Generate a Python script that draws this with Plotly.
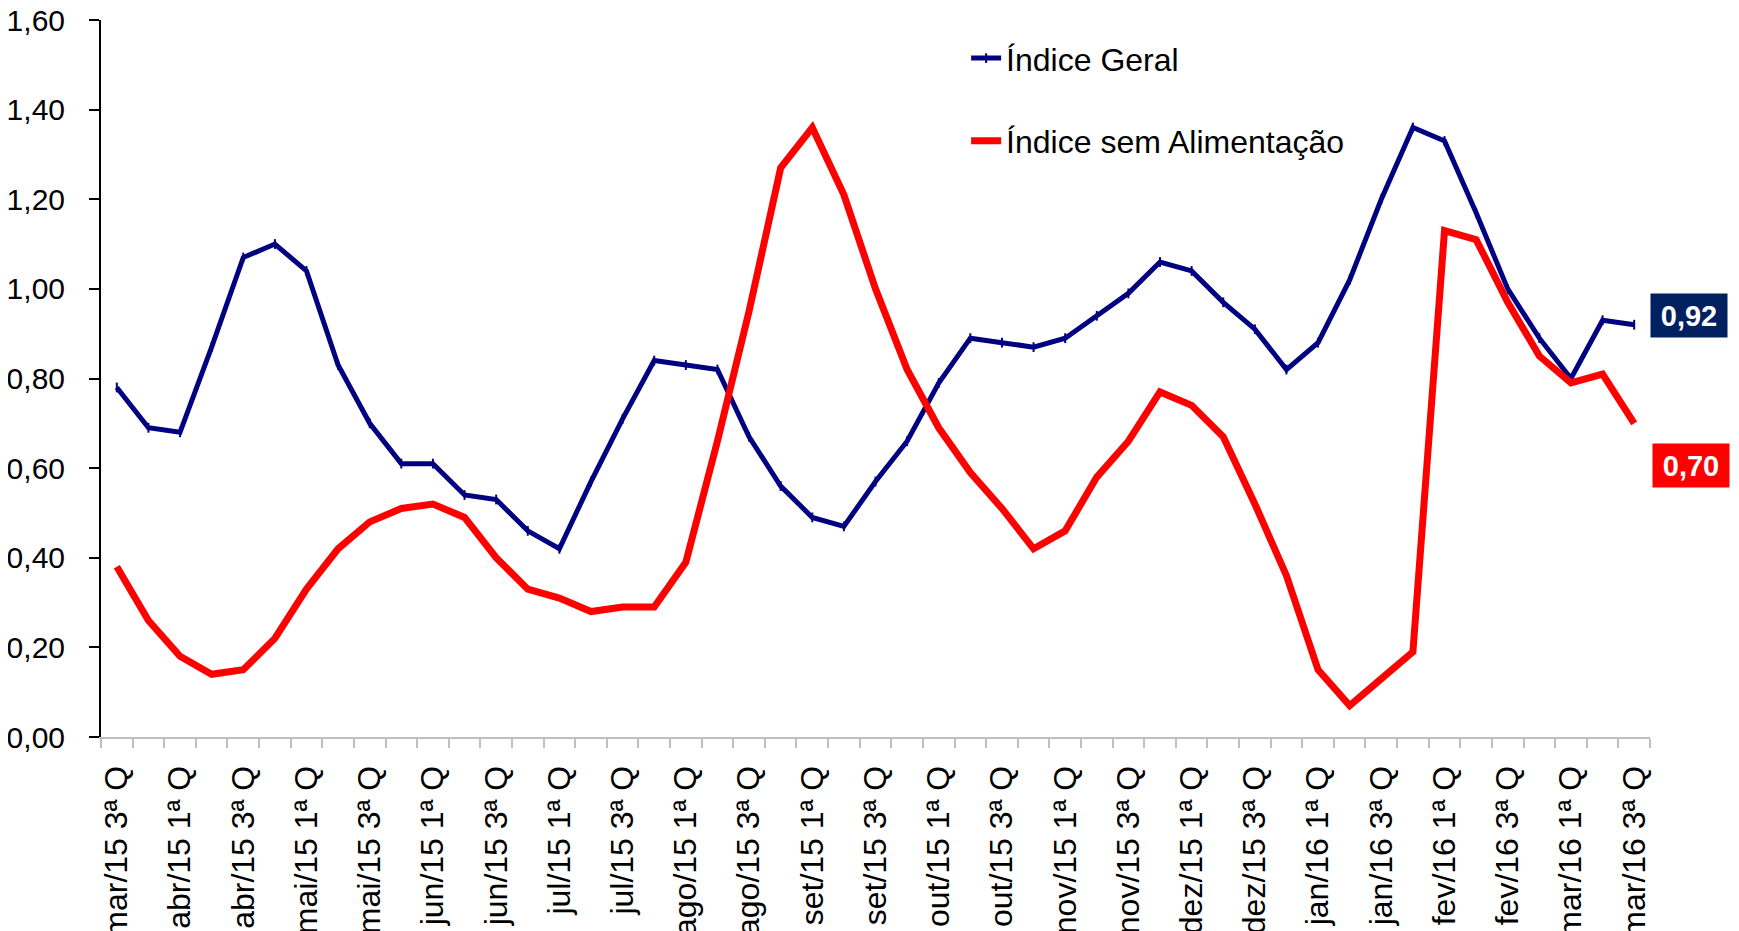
import plotly.graph_objects as go

# ---- data ----
months = ["mar/15", "abr/15", "mai/15", "jun/15", "jul/15", "ago/15", "set/15",
          "out/15", "nov/15", "dez/15", "jan/16", "fev/16", "mar/16"]
first_quad = 3   # series starts at mar/15 3ª Q
last_quad = 3    # series ends at mar/16 3ª Q

categories = []
for mi, m in enumerate(months):
    for q in range(1, 5):
        if mi == 0 and q < first_quad:
            continue
        if mi == len(months) - 1 and q > last_quad:
            continue
        categories.append(f"{m} {q}ª Q")

labeled_quads = ("1ª", "3ª")
tick_text = [c if c.split(" ")[1] in labeled_quads else "" for c in categories]

indice_geral = [0.78, 0.69, 0.68, 0.87, 1.07, 1.10, 1.04, 0.83, 0.70, 0.61,
                0.61, 0.54, 0.53, 0.46, 0.42, 0.57, 0.71, 0.84, 0.83, 0.82,
                0.67, 0.56, 0.49, 0.47, 0.57, 0.66, 0.79, 0.89, 0.88, 0.87,
                0.89, 0.94, 0.99, 1.06, 1.04, 0.97, 0.91, 0.82, 0.88, 1.02,
                1.20, 1.36, 1.33, 1.17, 1.00, 0.89, 0.80, 0.93, 0.92]

indice_sem_alim = [0.38, 0.26, 0.18, 0.14, 0.15, 0.22, 0.33, 0.42, 0.48, 0.51,
                   0.52, 0.49, 0.40, 0.33, 0.31, 0.28, 0.29, 0.29, 0.39, 0.66,
                   0.95, 1.27, 1.36, 1.21, 1.00, 0.82, 0.69, 0.59, 0.51, 0.42,
                   0.46, 0.58, 0.66, 0.77, 0.74, 0.67, 0.52, 0.36, 0.15, 0.07,
                   0.13, 0.19, 1.13, 1.11, 0.97, 0.85, 0.79, 0.81, 0.70]

BLUE = "#000080"
RED = "#FF0000"
BOX_BLUE = "#002060"
FONT = "Arial, 'Liberation Sans', sans-serif"

fig = go.Figure()
fig.add_trace(go.Scatter(
    x=categories, y=indice_geral, name="Índice Geral", mode="lines+markers",
    line=dict(color=BLUE, width=5),
    marker=dict(symbol="line-ns", size=7, line=dict(color=BLUE, width=2)),
    legendgroup="g1",
))
fig.add_trace(go.Scatter(
    x=categories, y=indice_sem_alim, name="Índice sem Alimentação", mode="lines",
    line=dict(color=RED, width=7),
    legendgroup="g2",
))

def fmt(v):
    return f"{v:.2f}".replace(".", ",")

fig.add_annotation(xref="paper", yref="y", x=1.0252, y=indice_geral[-1] + 0.021,
                   text=f"<b>{fmt(indice_geral[-1])}</b>", showarrow=False,
                   font=dict(family=FONT, size=29, color="white"),
                   bgcolor=BOX_BLUE, width=76, height=43, borderpad=0,
                   xanchor="center", yanchor="middle")
fig.add_annotation(xref="paper", yref="y", x=1.0265, y=indice_sem_alim[-1] - 0.095,
                   text=f"<b>{fmt(indice_sem_alim[-1])}</b>", showarrow=False,
                   font=dict(family=FONT, size=29, color="white"),
                   bgcolor=RED, width=76, height=43, borderpad=0,
                   xanchor="center", yanchor="middle")

fig.update_layout(
    width=1739, height=931,
    margin=dict(l=93, r=97, t=11.5, b=202, autoexpand=False),
    paper_bgcolor="white", plot_bgcolor="white",
    separators=", ",
    font=dict(family=FONT, color="black"),
    showlegend=True,
    legend=dict(x=0.5585, y=0.985, xanchor="left", yanchor="top",
                font=dict(family=FONT, size=32, color="black"),
                bgcolor="rgba(0,0,0,0)", traceorder="grouped",
                tracegroupgap=38, itemwidth=30),
    xaxis=dict(
        type="category", categoryorder="array", categoryarray=categories,
        tickmode="array", tickvals=categories, ticktext=tick_text,
        tickson="boundaries", ticks="outside", ticklen=9, tickwidth=2,
        tickcolor="#BFBFBF", tickangle=-90,
        tickfont=dict(family=FONT, size=32, color="black"),
        ticklabelstandoff=14, automargin=False, ticklabeloverflow="allow",
        showline=True, linecolor="#BFBFBF", linewidth=2,
        showgrid=False, zeroline=False,
        range=[-0.5, len(categories) - 0.5],
    ),
    yaxis=dict(
        range=[0, 1.6], tickmode="linear", tick0=0, dtick=0.2,
        tickformat=".2f", ticks="outside", ticklen=10, tickwidth=2,
        tickcolor="black", showline=True, linecolor="black", linewidth=2,
        tickfont=dict(family=FONT, size=30, color="black"),
        ticklabelstandoff=18, automargin=False, ticklabeloverflow="allow",
        showgrid=False, zeroline=False,
    ),
)

fig.write_html("out.html")
